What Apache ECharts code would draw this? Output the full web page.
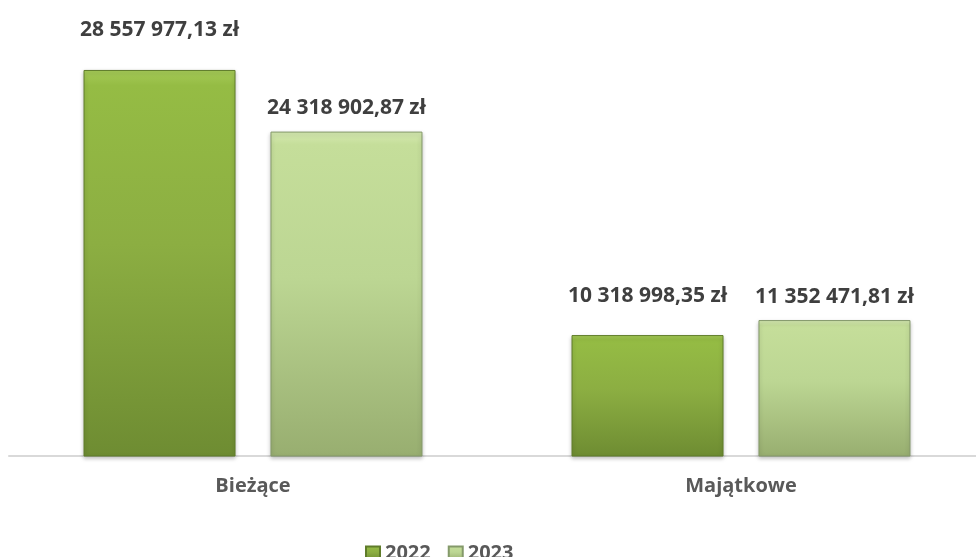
<!DOCTYPE html>
<html>
<head>
<meta charset="utf-8">
<script src="https://cdn.jsdelivr.net/npm/echarts@6/dist/echarts.min.js"></script>
<style>
  html, body { margin: 0; padding: 0; background: #ffffff; }
  #chart1 { width: 976px; height: 557px; }
</style>
</head>
<body>
<div id="chart1"></div>
<script>
var categories = ['Bieżące', 'Majątkowe'];
var seriesNames = ['2022', '2023'];
var values2022 = [28557977.13, 10318998.35];
var values2023 = [24318902.87, 11352471.81];

var dom = document.getElementById('chart1');
var myChart = echarts.init(dom, null, {
  renderer: 'canvas',
  useDirtyRect: false
});

var FONT = '"Open Sans", "DejaVu Sans", sans-serif';

// 28557977.13 -> "28 557 977,13 zł"
function formatPln(v) {
  var parts = v.toFixed(2).split('.');
  var intPart = parts[0].replace(/\B(?=(\d{3})+(?!\d))/g, ' ');
  return intPart + ',' + parts[1] + ' zł';
}

function barGradient(stops) {
  return new echarts.graphic.LinearGradient(0, 0, 0, 1, stops);
}

var option;

option = {
  animation: false,
  legend: {
    data: seriesNames,
    icon: 'rect',
    left: 360,
    top: 538,
    itemWidth: 14,
    itemHeight: 13,
    itemGap: 17,
    textStyle: {
      color: '#595959',
      fontFamily: FONT,
      fontWeight: 'bold',
      fontSize: 20
    }
  },
  grid: {
    left: 9,
    top: 49,
    width: 976,
    height: 407,
    outerBoundsMode: 'none'
  },
  xAxis: {
    type: 'category',
    data: categories,
    axisTick: { show: false },
    axisLine: {
      lineStyle: { color: '#d9d9d9', width: 2 }
    },
    axisLabel: {
      margin: 20,
      color: '#595959',
      fontFamily: FONT,
      fontWeight: 'bold',
      fontSize: 20
    }
  },
  yAxis: {
    type: 'value',
    show: false,
    min: 2000000,
    max: 30000000,
    splitLine: { show: false }
  },
  series: [
    {
      name: '2022',
      type: 'bar',
      data: values2022,
      barWidth: 152,
      barGap: '23%',
      itemStyle: {
        color: barGradient([
          { offset: 0, color: '#a6cb58' },
          { offset: 0.04, color: '#95bc44' },
          { offset: 0.45, color: '#8cae42' },
          { offset: 1, color: '#6e8c32' }
        ]),
        borderColor: '#5f7c2a',
        borderWidth: 1,
        shadowColor: 'rgba(0,0,0,0.25)',
        shadowBlur: 4,
        shadowOffsetY: 2
      },
      label: {
        show: true,
        position: 'top',
        distance: 29,
        color: '#3f3f3f',
        fontFamily: FONT,
        fontWeight: 'bold',
        fontSize: 21,
        formatter: function (p) { return formatPln(p.value); }
      }
    },
    {
      name: '2023',
      type: 'bar',
      data: values2023,
      barWidth: 152,
      itemStyle: {
        color: barGradient([
          { offset: 0, color: '#d6eab2' },
          { offset: 0.04, color: '#c5de9a' },
          { offset: 0.45, color: '#bcd693' },
          { offset: 1, color: '#98ae70' }
        ]),
        borderColor: '#84996a',
        borderWidth: 1,
        shadowColor: 'rgba(0,0,0,0.25)',
        shadowBlur: 4,
        shadowOffsetY: 2
      },
      label: {
        show: true,
        position: 'top',
        distance: 13,
        color: '#3f3f3f',
        fontFamily: FONT,
        fontWeight: 'bold',
        fontSize: 21,
        formatter: function (p) { return formatPln(p.value); }
      }
    }
  ]
};

if (option && typeof option === 'object') {
  myChart.setOption(option);
}

window.addEventListener('resize', myChart.resize);
</script>
</body>
</html>
